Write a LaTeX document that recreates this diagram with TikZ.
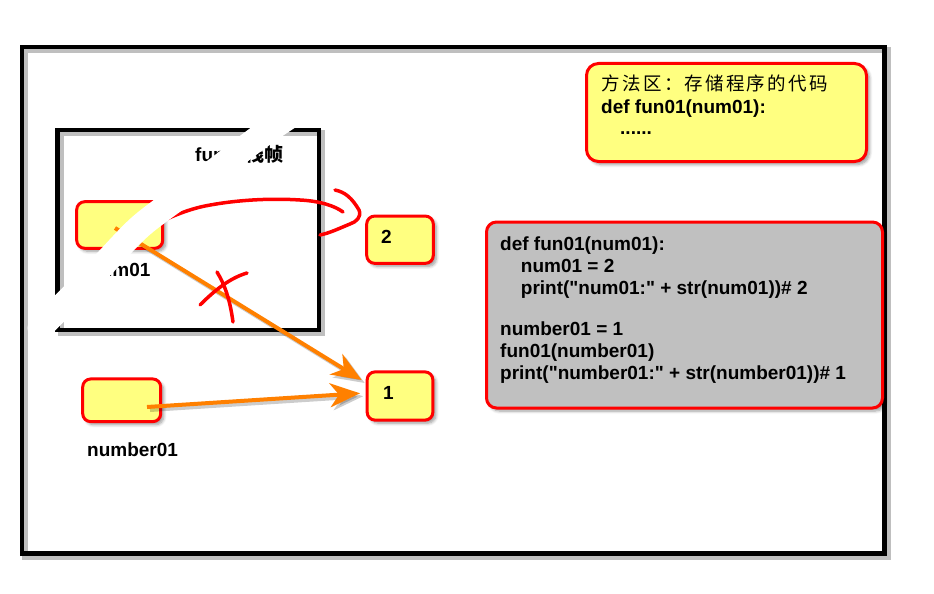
\documentclass[tikz,border=0pt]{standalone}
\usepackage{fontspec}
\setmainfont{Liberation Sans}[Ligatures=TeXOff]
\newfontfamily\cjk{Noto Sans CJK SC}
\newfontfamily\cjksp[LetterSpace=12]{Noto Sans CJK SC}
\usetikzlibrary{arrows.meta,shadows.blur}
\definecolor{yfill}{RGB}{255,255,128}
\definecolor{gfill}{RGB}{192,192,192}
\definecolor{arr}{RGB}{255,128,0}
\tikzset{
  frameline/.style={draw=black, line width=4.5pt},
  frameshadow/.style={draw=black, opacity=0.25, line width=6pt},
  ybox/.style={draw=red, fill=yfill, line width=3pt, rounded corners=8pt, inner sep=0pt,
    blur shadow={shadow xshift=3pt, shadow yshift=-3pt, shadow blur steps=6, shadow blur radius=3pt}},
  gbox/.style={draw=red, fill=gfill, line width=3pt, rounded corners=10pt, inner sep=0pt,
    blur shadow={shadow xshift=3pt, shadow yshift=-3pt, shadow blur steps=6, shadow blur radius=3pt}},
  txt/.style={font=\fontsize{19}{22}\selectfont\bfseries, inner sep=0pt, anchor=base west},
  arrowline/.style={draw=arr, line width=4pt, -{Stealth[length=30pt,width=24pt,inset=9pt]}},
  scrib/.style={draw=red, line width=3.5pt, line cap=round, line join=round},
  eraser/.style={draw=white, line width=25pt, line cap=round},
}
\begin{document}
\begin{tikzpicture}[x=1pt,y=-1pt]
\useasboundingbox (0,0) rectangle (934,594);
% outer frame
\draw[frameshadow] (25,50) rectangle (888,557);
\draw[frameline] (22,47) rectangle (884.7,553.7);
% inner frame
\draw[frameshadow] (60.5,133) rectangle (322,333);
\draw[frameline] (57.5,130) rectangle (319,330);
\node[txt] (stacklbl) at (195,161.7) {fun01{\cjk 栈帧}};
% boxes
\node[ybox, minimum width=86pt, minimum height=46.6pt] (pbox) at (119.7,225) {};
\node[txt] (pname) at (89,276.7) {num01};
\node[ybox, minimum width=66.6pt, minimum height=47.3pt] (two) at (400,239.7) {};
\node[txt] (twolbl) at (381,243.3) {2};
\node[ybox, minimum width=65.7pt, minimum height=48.3pt] (one) at (400,396) {};
\node[txt] (onelbl) at (383,399) {1};
\node[ybox, minimum width=78pt, minimum height=42.7pt] (nbox) at (121.7,400.3) {};
\node[txt] (nname) at (87,456.7) {number01};
% method area
\node[ybox, rounded corners=12pt, minimum width=280pt, minimum height=98pt] (method) at (726.5,112.5) {};
\node[txt, font=\fontsize{18.5}{22}\cjksp] (m1) at (601.7,90) {方法区：存储程序的代码};
\node[txt] (m2) at (601,113.3) {def fun01(num01):};
\node[txt] (m3) at (620,134) {......};
% code box
\node[gbox, minimum width=396pt, minimum height=186pt] (code) at (684.5,315) {};
\node[txt] (c1) at (500,250.7) {def fun01(num01):};
\node[txt] (c2) at (520.7,272) {num01 = 2};
\node[txt] (c3) at (520.7,294) {print("num01:" + str(num01))\# 2};
\node[txt] (c4) at (500,335.7) {number01 = 1};
\node[txt] (c5) at (500,357) {fun01(number01)};
\node[txt] (c6) at (500,379) {print("number01:" + str(number01))\# 1};
% arrows
\coordinate (pstart) at (115,228);
\coordinate (nstart) at (147,407);
\coordinate (oneA) at (361.7,380);
\coordinate (oneB) at (360,393.3);
\draw[arrowline, draw=black, opacity=0.2] ([shift={(3,3)}]nstart) -- ([shift={(3,3)}]oneB);
\draw[arrowline, draw=black, opacity=0.2] ([shift={(3,3)}]pstart) -- ([shift={(3,3)}]oneA);
\draw[arrowline] (pstart) -- (oneA);
\draw[arrowline] (nstart) -- (oneB);
% red scribbles
\draw[scrib] (128,229) .. controls (135,220) and (150,222) .. (160,222)
  .. controls (175,215) and (190,209) .. (205,206)
  .. controls (235,200) and (270,198) .. (300,200)
  .. controls (320,201) and (335,206) .. (343,212);
\draw[scrib] (335,190) .. controls (345,192) and (352,198) .. (359,210)
  .. controls (362,217) and (356,222) .. (350,224)
  .. controls (340,228) and (330,233) .. (320,235);
\draw[scrib] (200,305) .. controls (215,290) and (230,278) .. (247,273);
\draw[scrib] (217,272) .. controls (225,285) and (230,300) .. (233,322);
% white eraser stroke
\draw[eraser] plot[smooth] coordinates {(40,328) (100,268) (142,225) (200,182) (258,138) (290,116)};
\end{tikzpicture}
\end{document}
